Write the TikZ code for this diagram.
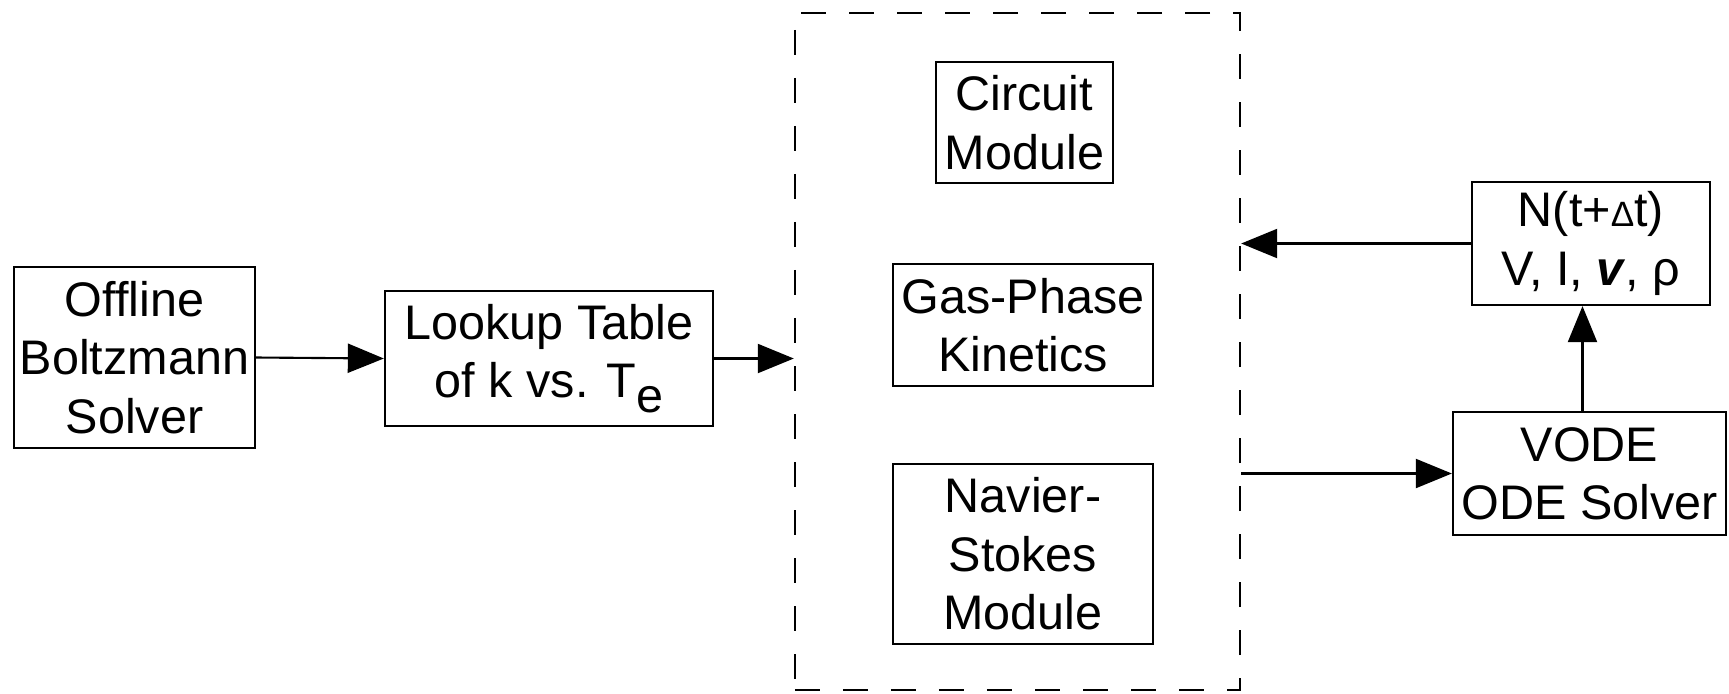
\documentclass[tikz,border=0pt]{standalone}
\usepackage{fontspec}
\setmainfont{Liberation Sans}
\usetikzlibrary{arrows.meta}

\tikzset{
  block/.style={draw,line width=0.6pt,align=center,inner sep=0pt,
    font=\fontsize{13.8}{16.6}\selectfont},
  flow/.style={-{Triangle[length=0.36cm,width=0.29cm]},line width=0.6pt}
}

\begin{document}
\begin{tikzpicture}[x=0.01cm,y=-0.01cm]
\useasboundingbox (0,0) rectangle (1729,693);

\node[block,minimum width=2.41cm,minimum height=1.81cm] (boltz) at (134.5,357.5) {Offline\\Boltzmann\\Solver};
\node[block,minimum width=3.28cm,minimum height=1.35cm] (lookup) at (549,358.5) {Lookup Table~\\of k vs. T\raisebox{-0.3em}{e}};

% coupled plasma model
\node[draw,line width=0.6pt,dash pattern=on 0.25cm off 0.23cm,minimum width=4.45cm,minimum height=6.77cm] (frame) at (1017.5,351.5) {};
\node[block,minimum width=1.77cm,minimum height=1.21cm] (circuit) at (1024.5,122.5) {Circuit\\Module};
\node[block,minimum width=2.6cm,minimum height=1.22cm] (kinetics) at (1023,325) {Gas-Phase\\Kinetics};
\node[block,minimum width=2.6cm,minimum height=1.8cm] (navier) at (1023,554) {Navier-\\Stokes\\Module};

\node[block,minimum width=2.38cm,minimum height=1.23cm] (state) at (1591,243.5) {N(t+{\fontsize{10}{10}\selectfont Δ}t)\\V, I, \textbf{\textit{v}}, ρ};
\node[block,minimum width=2.73cm,minimum height=1.23cm] (vode) at (1589.5,473.5) {VODE\\ODE Solver};

\draw[flow] (boltz.east) -- (lookup.west);
\draw[flow] (lookup.east) -- (lookup.east -| frame.west);
\draw[flow] (state.west) -- (state.west -| frame.east);
\draw[flow] (vode.west -| frame.east) -- (vode.west);
\draw[flow] ([xshift=-0.07cm]vode.north) -- ([xshift=-0.07cm]vode.north |- state.south);

\end{tikzpicture}
\end{document}
